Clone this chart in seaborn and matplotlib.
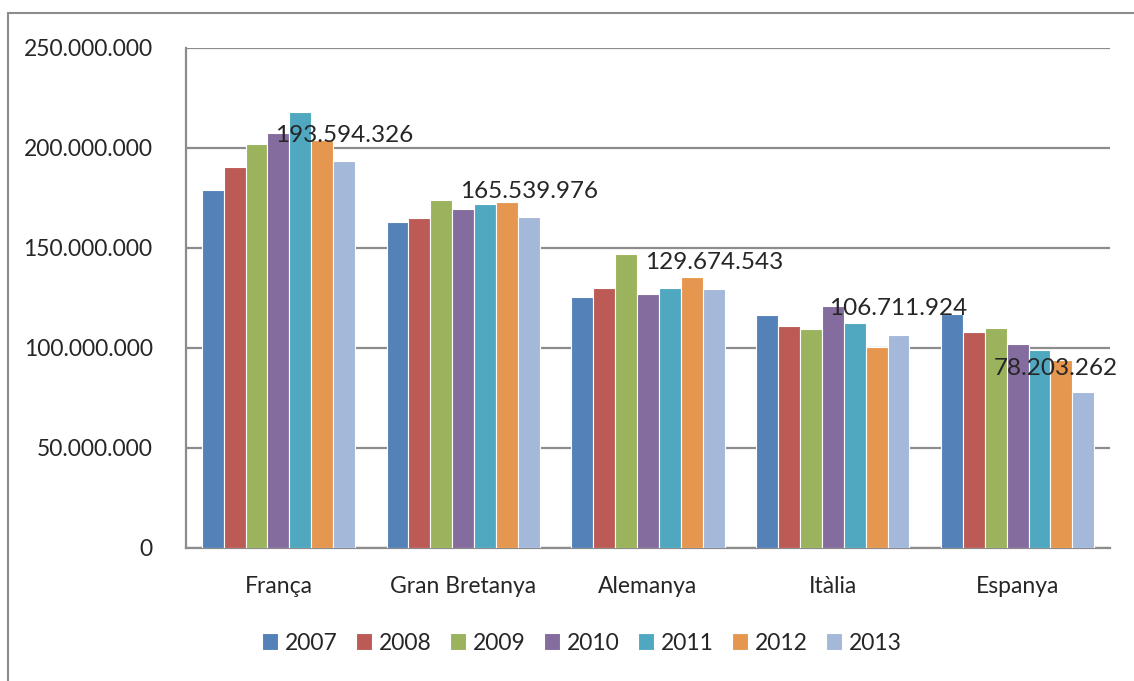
import pandas as pd
import matplotlib
matplotlib.use("Agg")
import matplotlib.pyplot as plt
import matplotlib.ticker as mticker
from matplotlib.patches import Rectangle
import seaborn as sns

paisos = ["França", "Gran Bretanya", "Alemanya", "Itàlia", "Espanya"]
anys = ["2007", "2008", "2009", "2010", "2011", "2012", "2013"]

v2007 = [179000000, 162800000, 125700000, 116500000, 117200000]
v2008 = [190700000, 164800000, 129800000, 111200000, 108000000]
v2009 = [201800000, 174000000, 146800000, 109500000, 110200000]
v2010 = [207300000, 169500000, 126800000, 120800000, 102000000]
v2011 = [218000000, 172000000, 129800000, 112500000, 98800000]
v2012 = [204000000, 173000000, 135500000, 100700000, 94000000]
v2013 = [193594326, 165539976, 129674543, 106711924, 78203262]

colors = ["#5482B8", "#BC5A55", "#9BB35C", "#856C9E", "#4FA8C0", "#E6974F", "#A4B8DA"]

series = [v2007, v2008, v2009, v2010, v2011, v2012, v2013]
rows = []
for year, vals in zip(anys, series):
    for pais, v in zip(paisos, vals):
        rows.append({"pais": pais, "any": year, "valor": v})
df = pd.DataFrame(rows)

sns.set_style("white")
plt.rcParams["font.family"] = ["Lato", "DejaVu Sans"]

fig = plt.figure(figsize=(11.34, 6.81), dpi=100)
ax = fig.add_axes([186 / 1134, 1 - 548 / 681, (1112 - 188) / 1134, 500 / 681])

sns.barplot(data=df, x="pais", y="valor", hue="any", palette=colors,
            width=0.83, saturation=1, edgecolor="white", linewidth=0.8,
            ax=ax, zorder=3)

grid_c = "#8c8c8c"
ax.set_ylim(0, 250000000)
ax.set_xlim(-0.5, 4.5)
ax.yaxis.set_major_locator(mticker.MultipleLocator(50000000))
ax.yaxis.set_major_formatter(mticker.FuncFormatter(lambda v, p: f"{v:,.0f}".replace(",", ".")))
ax.yaxis.grid(True, color=grid_c, linewidth=1.6, zorder=0)
ax.set_axisbelow(True)

ax.set_xticks(range(len(paisos)))
ax.set_xticklabels(paisos)
ax.set_xticks([i - 0.5 for i in range(len(paisos) + 1)], minor=True)
ax.tick_params(axis="x", which="major", length=0, pad=20, labelsize=16.5)
ax.tick_params(axis="x", which="minor", length=8, width=1.2, color=grid_c, direction="out")
ax.tick_params(axis="y", length=8, width=1.2, color=grid_c, direction="out", pad=16, labelsize=16.5)
ax.set_xlabel("")
ax.set_ylabel("")

for side in ["top", "right"]:
    ax.spines[side].set_visible(False)
for side in ["left", "bottom"]:
    ax.spines[side].set_color(grid_c)
    ax.spines[side].set_linewidth(1.6)

lbls = [f"{v:,.0f}".replace(",", ".") for v in v2013]
texts = ax.bar_label(ax.containers[-1], labels=lbls, padding=11, fontsize=17.5, clip_on=False)
# last label sits a bit to the left in the original
ox, oy = texts[-1].xyann
texts[-1].xyann = (ox - 20, oy - 2)

ax.legend(loc="center", bbox_to_anchor=(582 / 1134, (681 - 643) / 681), bbox_transform=fig.transFigure,
          ncol=7, frameon=False, fontsize=16.5, handlelength=0.7, handleheight=0.7,
          handletextpad=0.3, columnspacing=0.8)

fig.add_artist(Rectangle((8 / 1134, -0.1), 2, 1 - 13 / 681 + 0.1, transform=fig.transFigure,
                         fill=False, edgecolor=grid_c, linewidth=1.5))

fig.savefig("out.png", dpi=100)
